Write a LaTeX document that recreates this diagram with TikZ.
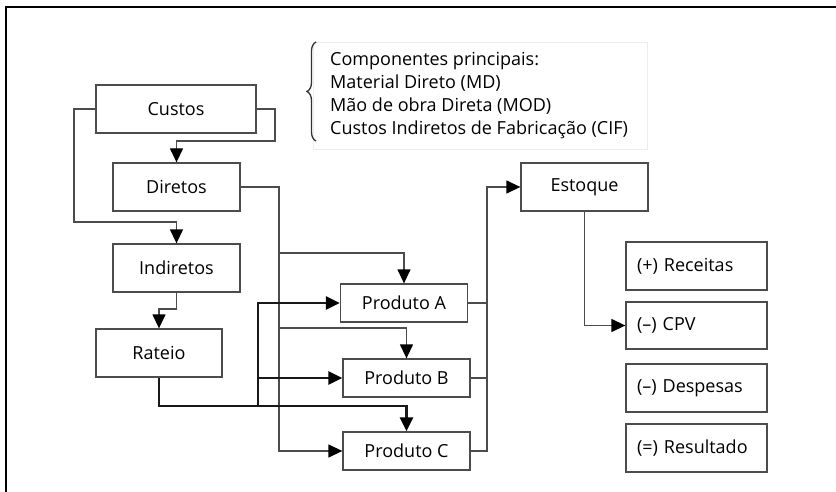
\documentclass[tikz,border=0pt]{standalone}
\usepackage{fontspec}
\setmainfont{Open Sans}
\usetikzlibrary{positioning,arrows.meta,decorations.pathreplacing}

\begin{document}
\begin{tikzpicture}[
    x=1pt, y=-1pt, >={Triangle[length=14pt,width=13pt,color=black]},
    font=\fontsize{18}{23}\selectfont,
    caixa/.style={draw=black!70, line width=1.3pt, minimum height=48pt, align=center, inner sep=0pt},
    prod/.style={caixa, minimum height=38pt, minimum width=127pt},
    dre/.style={caixa, minimum width=141pt, text width=119pt, inner xsep=11pt, align=left},
    fio/.style={draw=black!70, line width=1.3pt},
    grosso/.style={draw=black!90, line width=2.8pt},
  ]
  \useasboundingbox (0,0) rectangle (836,492);
  % moldura
  \draw[line width=2.6pt] (6,492) -- (6,7) -- (836,7);

  % componentes
  \draw[black!7, line width=1pt] (313,43) rectangle (647,150);
  \draw[decorate, decoration={brace, amplitude=9pt}, line width=1.3pt, black!80] (316,141) -- (316,42);
  \node[anchor=west, align=left, inner sep=0pt] (comp) at (330,95.5)
    {Componentes principais:\\Material Direto (MD)\\Mão de obra Direta (MOD)\\Custos Indiretos de Fabricação (CIF)};

  % blocos
  \node[caixa, minimum width=160pt] (custos) at (176,109) {Custos};
  \node[caixa, minimum width=127pt] (diretos) at (176.5,187) {Diretos};
  \node[caixa, minimum width=127pt] (indiretos) at (176.5,268) {Indiretos};
  \node[caixa, minimum width=126pt] (rateio) at (159,353) {Rateio};
  \node[prod] (proda) at (404,303) {Produto A};
  \node[prod] (prodb) at (406.5,378) {Produto B};
  \node[prod] (prodc) at (406.5,451) {Produto C};
  \node[caixa, minimum width=127pt] (estoque) at (584.5,187) {Estoque};
  \node[dre] (receitas) at (696.5,266) {(+) Receitas};
  \node[dre, minimum height=47pt] (cpv) at (696.5,325.5) {(--) CPV};
  \node[dre] (despesas) at (696.5,388) {(--) Despesas};
  \node[dre] (resultado) at (696.5,448) {(=) Resultado};

  % pontos de desvio
  \coordinate (k1) at (74,222);
  \coordinate (k2) at (275,141);
  \coordinate (dv) at (279,451);
  \coordinate (ja) at (279,253);
  \coordinate (jb) at (279,328);
  \coordinate (kr) at (159,309);
  \coordinate (kc) at (258,406);
  \coordinate (ke) at (487,187);

  % custos
  \draw[fio, ->] (custos.west) -| (k1) -| (indiretos.north);
  \draw[fio, ->] (custos.east) -| (k2) -| (diretos.north);
  % diretos
  \draw[fio, ->] (diretos.east) -| (dv) -- (prodc.west);
  \draw[fio, ->] (ja) -| (proda.north);
  \draw[fio, ->] (jb) -| (prodb.north);
  % indiretos e rateio
  \draw[fio, ->] (indiretos.south) |- (kr) -- (rateio.north);
  \draw[grosso, ->] (rateio.south) |- (kc) -| (prodc.north);
  \draw[grosso, ->] (kc) |- (proda.west);
  \draw[grosso, ->] (kc) |- (prodb.west);
  % estoque
  \draw[fio, ->] (prodc.east) -| (ke) -- (estoque.west);
  \draw[fio] (proda.east) -- (proda.east -| ke);
  \draw[fio] (prodb.east) -- (prodb.east -| ke);
  \draw[fio, ->] (estoque.south) |- (cpv.west);
\end{tikzpicture}
\end{document}
